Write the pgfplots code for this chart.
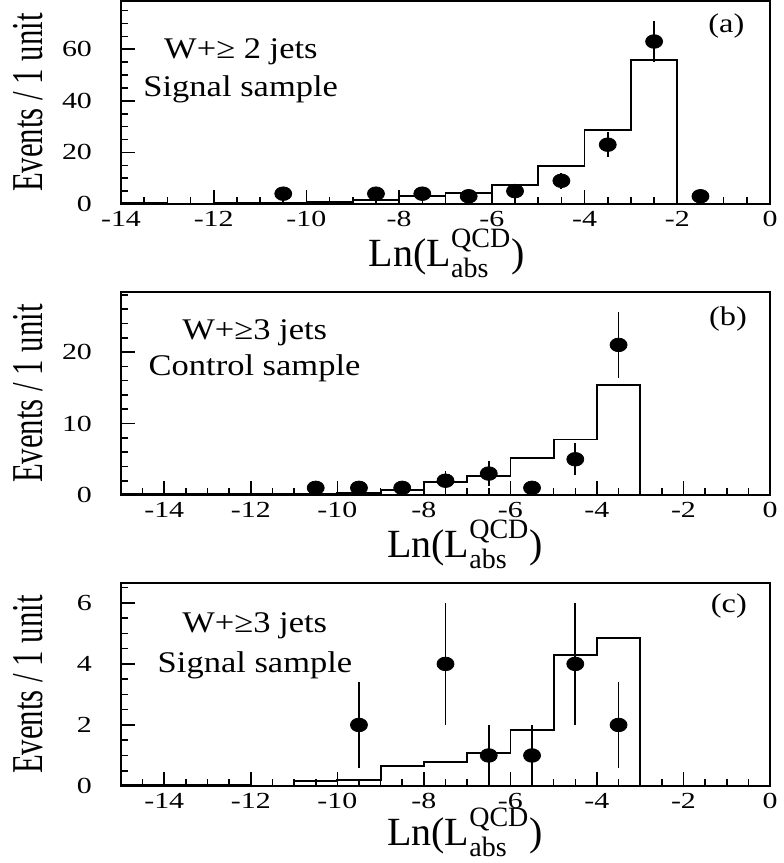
\documentclass[border=0pt]{standalone}
\usepackage{fontspec}
\setmainfont{Liberation Serif}
\usepackage{amsmath}
\usepackage{graphicx}
\usepackage{pgfplots}
\pgfplotsset{compat=1.18}
\newcommand\sx[1]{\scalebox{1.3}[1]{#1}}
\pgfplotsset{
  panel/.style={
    scale only axis, width=324.5pt, height=101.5pt,
    axis line style={line width=1pt},
    tick align=inside, tick pos=left,
    major tick length=7pt, minor tick length=3.5pt,
    tick style={line width=0.8pt, black},
    tick label style={font=\fontsize{11.5}{13}\selectfont},
    yticklabel style={xshift=-11pt},
    ylabel={\scalebox{0.70}[1]{Events / 1 unit}},
    ylabel style={at={(axis description cs:-0.143,0.5)}, anchor=center, font=\fontsize{22}{26}\selectfont},
    xlabel={Ln(L$^{\text{QCD}}_{\text{abs}}$)},
    xlabel style={anchor=base, yshift=-31pt, font=\fontsize{20}{24}\selectfont},
    xtick={-14,-12,...,0},
    xticklabels={\sx{-14},\sx{-12},\sx{-10},\sx{-8},\sx{-6},\sx{-4},\sx{-2},\sx{0}},
    xmax=0, ymin=0,
  },
  hist/.style={const plot, no marks, line width=0.9pt, black},
  dat/.style={only marks, mark=*, mark size=3.4pt, black,
    mark options={xscale=1.25, fill=black, draw=black},
    error bars/.cd, y dir=both, y explicit, error mark=none,
    error bar style={line width=0.9pt, black}},
}
\tikzset{
  ann/.style={anchor=base west, inner sep=0pt, font=\fontsize{15}{17}\selectfont},
  lab/.style={anchor=base east, inner sep=0pt, font=\fontsize{13.5}{15}\selectfont},
}
\begin{document}
\begin{tikzpicture}
\path[use as bounding box] (0pt,0pt) rectangle (391.5pt,-431.5pt);
% ---------------- (a)
\begin{axis}[panel, at={(60.5pt,-102pt)}, anchor=south west,
  xmin=-14, ymax=78.7,
  minor xtick={-14,-13.5,...,0},
  ytick={0,20,40,60}, yticklabels={\sx{0},\sx{20},\sx{40},\sx{60}},
  minor ytick={0,5,...,75},
  xlabel style={at={(axis description cs:0.502,0)}}]
\addplot[hist] coordinates {(-14,0.4) (-13,0) (-12,0.25) (-11,0.25) (-10,0.65) (-9,1.7) (-8,3.2) (-7,4.2) (-6,7.4) (-5,14.8) (-4,28.8) (-3,55.7) (-2,55.7) (-2,0)};
\addplot[dat] coordinates {(-10.5,4) +- (0,2) (-8.5,4) +- (0,2) (-7.5,4) +- (0,2) (-6.5,3) +- (0,1.73) (-5.5,5) +- (0,2.24) (-4.5,9) +- (0,3) (-3.5,23) +- (0,4.8) (-2.5,63) +- (0,7.94) (-1.5,3) +- (0,1.73)};
\node[ann] at (axis description cs:0.066,0.718) {\scalebox{1.15}[1]{W+≥ 2 jets}};
\node[ann] at (axis description cs:0.034,0.53) {\scalebox{1.15}[1]{Signal sample}};
\node[lab] at (axis description cs:0.961,0.846) {\scalebox{1.2}[1]{(a)}};
\end{axis}
% ---------------- (b)
\begin{axis}[panel, at={(60.5pt,-247.5pt)}, anchor=south west,
  xmin=-15, ymax=28.4,
  minor xtick={-15,-14.5,...,0},
  ytick={0,10,20}, yticklabels={\sx{0},\sx{10},\sx{20}},
  minor ytick={0,2,...,28},
  xlabel style={at={(axis description cs:0.53,0)}}]
\addplot[hist] coordinates {(-15,0.12) (-11,0.2) (-10,0.3) (-9,0.75) (-8,1.77) (-7,2.65) (-6,5.2) (-5,7.77) (-4,15.35) (-3,15.35) (-3,0)};
\addplot[dat] coordinates {(-10.5,1) +- (0,1) (-9.5,1) +- (0,1) (-8.5,1) +- (0,1) (-7.5,2) +- (0,1.41) (-6.5,3) +- (0,1.73) (-5.5,1) +- (0,1) (-4.5,5) +- (0,2.24) (-3.5,21) +- (0,4.58)};
\node[ann] at (axis description cs:0.094,0.768) {\scalebox{1.15}[1]{W+≥3 jets}};
\node[ann] at (axis description cs:0.042,0.59) {\scalebox{1.15}[1]{Control sample}};
\node[lab] at (axis description cs:0.965,0.837) {\scalebox{1.2}[1]{(b)}};
\end{axis}
% ---------------- (c)
\begin{axis}[panel, at={(60.5pt,-393pt)}, anchor=south west,
  xmin=-15, ymax=6.65,
  minor xtick={-15,-14.5,...,0},
  ytick={0,2,4,6}, yticklabels={\sx{0},\sx{2},\sx{4},\sx{6}},
  minor ytick={0,0.5,...,6.5},
  xlabel style={at={(axis description cs:0.53,0)}, yshift=1.5pt}]
\addplot[hist] coordinates {(-15,0.04) (-12,0) (-11,0.16) (-10,0.2) (-9,0.66) (-8,0.78) (-7,1.09) (-6,1.83) (-5,4.28) (-4,4.84) (-3,4.84) (-3,0)};
\addplot[dat] coordinates {(-9.5,2) +- (0,1.41) (-7.5,4) +- (0,2) (-6.5,1) +- (0,1) (-5.5,1) +- (0,1) (-4.5,4) +- (0,2) (-3.5,2) +- (0,1.41)};
\node[ann] at (axis description cs:0.094,0.754) {\scalebox{1.15}[1]{W+≥3 jets}};
\node[ann] at (axis description cs:0.056,0.56) {\scalebox{1.15}[1]{Signal sample}};
\node[lab] at (axis description cs:0.965,0.857) {\scalebox{1.2}[1]{(c)}};
\end{axis}
\end{tikzpicture}
\end{document}
